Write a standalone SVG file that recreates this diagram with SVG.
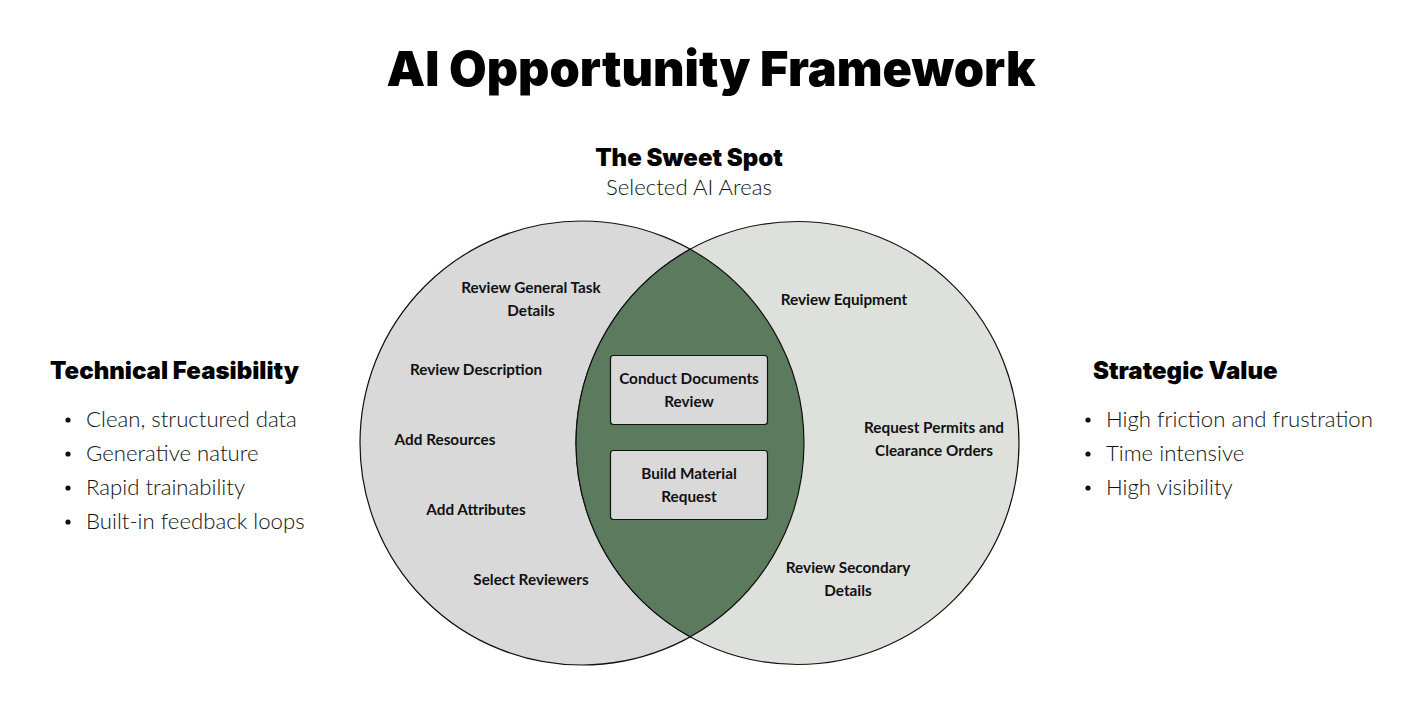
<svg xmlns="http://www.w3.org/2000/svg" width="1423" height="701" viewBox="0 0 1423 701">
<style>
.title{font-family:Inter,"Liberation Sans",sans-serif;font-weight:900;fill:#000}
.head{font-family:Inter,"Liberation Sans",sans-serif;font-weight:900;font-size:24px;fill:#000}
.light{font-family:Lato,"Open Sans",sans-serif;font-weight:300;font-size:22.2px;fill:#111}
.lbl{font-family:Lato,"Open Sans",sans-serif;font-weight:700;font-size:15.3px;fill:#111;text-anchor:middle}
.circ{stroke:#111;stroke-width:1.2}
.box{fill:#d9d9d9;stroke:#111;stroke-width:1.2}
.dot{fill:#111}
</style>
<rect width="1423" height="701" fill="#fff"/>
<text class="title" x="711" y="86" font-size="48.6" text-anchor="middle">AI Opportunity Framework</text>
<g id="sweet-spot-title">
<text class="head" x="689" y="166" text-anchor="middle">The Sweet Spot</text>
<text class="light" x="689" y="195" text-anchor="middle" font-size="21">Selected AI Areas</text>
</g>
<g id="left-circle"><circle class="circ" cx="582" cy="443" r="222" fill="#d9d9d9"/></g>
<g id="right-circle"><circle class="circ" cx="797.5" cy="443" r="221.5" fill="#dde0db"/></g>
<g id="sweet-spot"><path class="circ" d="M690.26 249.2 A222 222 0 0 1 690.26 636.8 A221.5 221.5 0 0 1 690.26 249.2 Z" fill="#5b7a5e"/></g>
<g id="technical-feasibility">
<text class="head" x="50" y="379">Technical Feasibility</text>
<circle class="dot" cx="68" cy="420" r="2.6"/><text class="light" x="86" y="427">Clean, structured data</text>
<circle class="dot" cx="68" cy="454" r="2.6"/><text class="light" x="86" y="461">Generative nature</text>
<circle class="dot" cx="68" cy="488" r="2.6"/><text class="light" x="86" y="495">Rapid trainability</text>
<circle class="dot" cx="68" cy="522" r="2.6"/><text class="light" x="86" y="529">Built-in feedback loops</text>
</g>
<g id="strategic-value">
<text class="head" x="1093" y="379">Strategic Value</text>
<circle class="dot" cx="1088" cy="420" r="2.6"/><text class="light" x="1106" y="427">High friction and frustration</text>
<circle class="dot" cx="1088" cy="454" r="2.6"/><text class="light" x="1106" y="461">Time intensive</text>
<circle class="dot" cx="1088" cy="488" r="2.6"/><text class="light" x="1106" y="495">High visibility</text>
</g>
<g id="left-items">
<g id="review-general"><text class="lbl" x="531" y="293">Review General Task</text><text class="lbl" x="531" y="316">Details</text></g>
<g id="review-description"><text class="lbl" x="476" y="375">Review Description</text></g>
<g id="add-resources"><text class="lbl" x="445" y="445">Add Resources</text></g>
<g id="add-attributes"><text class="lbl" x="476" y="515">Add Attributes</text></g>
<g id="select-reviewers"><text class="lbl" x="531" y="585">Select Reviewers</text></g>
</g>
<g id="right-items">
<g id="review-equipment"><text class="lbl" x="844" y="305">Review Equipment</text></g>
<g id="request-permits"><text class="lbl" x="934" y="433">Request Permits and</text><text class="lbl" x="934" y="456">Clearance Orders</text></g>
<g id="review-secondary"><text class="lbl" x="848" y="573">Review Secondary</text><text class="lbl" x="848" y="596">Details</text></g>
</g>
<g id="conduct-documents"><rect class="box" x="610.5" y="355.5" width="157" height="69" rx="3"/><text class="lbl" x="689" y="384">Conduct Documents</text><text class="lbl" x="689" y="407">Review</text></g>
<g id="build-material"><rect class="box" x="610.5" y="450.5" width="157" height="69" rx="3"/><text class="lbl" x="689" y="479">Build Material</text><text class="lbl" x="689" y="502">Request</text></g>
<g id="connectors"/>
</svg>
